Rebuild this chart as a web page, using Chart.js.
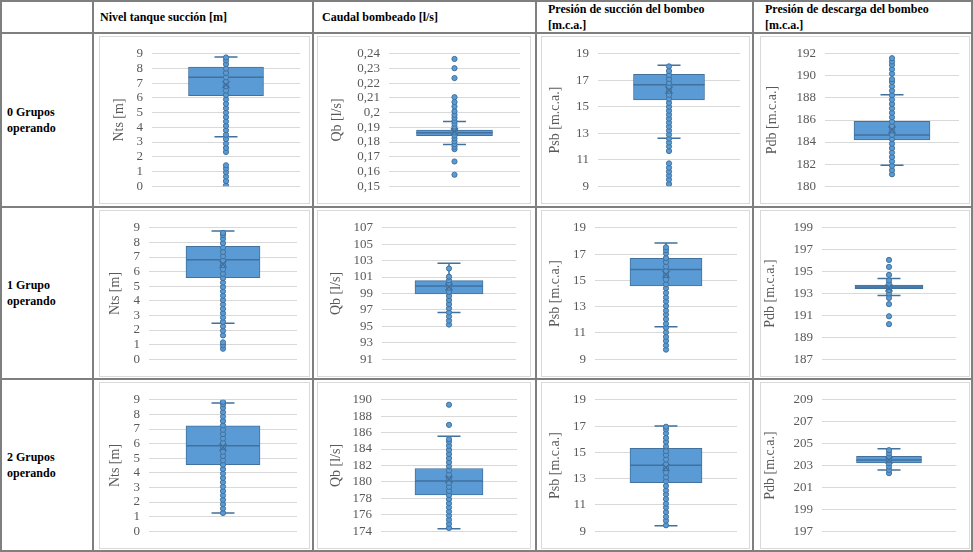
<!DOCTYPE html>
<html>
<head>
<meta charset="utf-8">
<script src="https://cdn.jsdelivr.net/npm/chart.js@4.4.0/dist/chart.umd.min.js"></script>
<style>
body{margin:0;background:#fff;}
#page{position:relative;width:973px;height:552px;overflow:hidden;font-family:"Liberation Serif","Times New Roman",serif;}
.hl{position:absolute;left:0;width:973px;height:2px;background:#7f7f7f;}
.vl{position:absolute;top:0;height:552px;width:2px;background:#7f7f7f;}
.txt{position:absolute;font-family:"Liberation Serif",serif;font-weight:bold;font-size:12px;line-height:16px;color:#000;display:flex;align-items:center;}
.box{position:absolute;border:1px solid #d9d9d9;box-sizing:border-box;background:#fff;}
.box canvas{display:block;}
</style>
</head>
<body>
<div id="page"></div>
<script>
var colHeaders = [['Nivel tanque succión [m]'], ['Caudal bombeado [l/s]'], ['Presión de succión del bombeo', '[m.c.a.]'], ['Presión de descarga del bombeo', '[m.c.a.]']];
var rowLabels = [['0 Grupos', 'operando'], ['1 Grupo', 'operando'], ['2 Grupos', 'operando']];
var yTitles = ['Nts [m]', 'Qb [l/s]', 'Psb [m.c.a.]', 'Pdb [m.c.a.]'];

// box = [whisker min, Q1, median, Q3, whisker max]
// 0 grupos
var nts0Ticks = [0, 9, 1];
var nts0Box = [3.36, 6.15, 7.4, 8.1, 8.78];
var nts0Mean = 6.9;
var nts0Points = [0.05, 0.35, 0.65, 0.95, 1.2, 1.42, 2.33, 2.6, 2.9, 3.2, 3.5, 3.8, 4.1, 4.4, 4.7, 5.0, 5.3, 5.6, 5.9, 6.2, 6.5, 6.8, 7.1, 7.4, 7.7, 8.0, 8.3, 8.55, 8.75];

var qb0Ticks = [0.15, 0.24, 0.01];
var qb0Box = [0.1783, 0.1844, 0.1864, 0.1881, 0.194];
var qb0Mean = 0.187;
var qb0Points = [0.1578, 0.1668, 0.1752, 0.1768, 0.1785, 0.1805, 0.1825, 0.1845, 0.1865, 0.1885, 0.1905, 0.1925, 0.1945, 0.1965, 0.1985, 0.201, 0.2042, 0.2072, 0.2105, 0.2235, 0.2302, 0.2365];

var psb0Ticks = [9, 19, 2];
var psb0Box = [12.63, 15.51, 16.67, 17.45, 18.13];
var psb0Mean = 16.26;
var psb0Points = [9.17, 9.5, 9.8, 10.1, 10.4, 10.72, 11.66, 12.0, 12.3, 12.6, 12.9, 13.2, 13.5, 13.8, 14.1, 14.4, 14.7, 15.0, 15.3, 15.6, 15.9, 16.2, 16.5, 16.8, 17.1, 17.4, 17.7, 18.05];

var pdb0Ticks = [180, 192, 2];
var pdb0Box = [181.89, 184.19, 184.65, 185.87, 188.28];
var pdb0Mean = 185.1;
var pdb0Points = [181.08, 181.45, 181.85, 182.25, 182.65, 183.05, 183.45, 183.85, 184.25, 184.65, 185.05, 185.45, 185.85, 186.25, 186.65, 187.05, 187.45, 187.85, 188.25, 188.65, 189.05, 189.45, 189.7, 190.2, 190.6, 191.0, 191.3, 191.6];

// 1 grupo
var nts1Ticks = [0, 9, 1];
var nts1Box = [2.46, 5.58, 6.82, 7.73, 8.78];
var nts1Mean = 6.5;
var nts1Points = [0.72, 0.95, 1.15, 1.63, 1.95, 2.25, 2.55, 2.85, 3.15, 3.45, 3.75, 4.05, 4.35, 4.65, 4.95, 5.25, 5.55, 5.85, 6.15, 6.45, 6.75, 7.05, 7.35, 7.65, 7.95, 8.25, 8.5, 8.65];

var qb1Ticks = [91, 107, 2];
var qb1Box = [96.7, 98.95, 99.9, 100.57, 102.67];
var qb1Mean = 99.8;
var qb1Points = [95.22, 95.7, 96.2, 96.7, 97.2, 97.7, 98.2, 98.7, 99.2, 99.7, 100.2, 100.6, 101.05, 102.05];

var psb1Ticks = [9, 19, 2];
var psb1Box = [11.47, 14.57, 15.83, 16.68, 17.84];
var psb1Mean = 15.45;
var psb1Points = [9.73, 10.05, 10.4, 10.7, 11.05, 11.4, 11.7, 12.05, 12.4, 12.7, 13.05, 13.4, 13.7, 14.05, 14.4, 14.7, 15.05, 15.4, 15.7, 16.05, 16.4, 16.7, 17.05, 17.3, 17.52];

var pdb1Ticks = [187, 199, 2];
var pdb1Box = [192.81, 193.45, 193.6, 193.77, 194.38];
var pdb1Mean = 193.5;
var pdb1Points = [190.2, 190.92, 192.03, 192.6, 193.0, 193.3, 193.6, 193.9, 194.2, 194.7, 195.43, 196.07];

// 2 grupos
var nts2Ticks = [0, 9, 1];
var nts2Box = [1.24, 4.55, 5.86, 7.21, 8.78];
var nts2Mean = 5.75;
var nts2Points = [1.25, 1.55, 1.85, 2.15, 2.45, 2.75, 3.05, 3.35, 3.65, 3.95, 4.25, 4.55, 4.85, 5.15, 5.45, 5.75, 6.05, 6.35, 6.65, 6.95, 7.25, 7.55, 7.85, 8.15, 8.45, 8.7, 8.85];

var qb2Ticks = [174, 190, 2];
var qb2Box = [174.31, 178.42, 180.12, 181.63, 185.55];
var qb2Mean = 180.3;
var qb2Points = [174.4, 174.9, 175.4, 175.9, 176.4, 176.9, 177.4, 177.9, 178.4, 178.9, 179.4, 179.9, 180.4, 180.9, 181.4, 181.9, 182.4, 182.9, 183.4, 183.9, 184.4, 184.9, 185.2, 186.95, 189.4];

var psb2Ticks = [9, 19, 2];
var psb2Box = [9.41, 12.7, 14.01, 15.3, 17.01];
var psb2Mean = 13.85;
var psb2Points = [9.45, 9.8, 10.1, 10.45, 10.8, 11.1, 11.45, 11.8, 12.1, 12.45, 12.8, 13.1, 13.45, 13.8, 14.1, 14.45, 14.8, 15.1, 15.45, 15.8, 16.1, 16.45, 16.75, 16.95];

var pdb2Ticks = [197, 209, 2];
var pdb2Box = [202.6, 203.23, 203.5, 203.84, 204.54];
var pdb2Mean = 203.5;
var pdb2Points = [202.3, 202.6, 202.9, 203.2, 203.5, 203.8, 204.1, 204.4];

var charts = [
  [[nts0Ticks, nts0Box, nts0Mean, nts0Points], [qb0Ticks, qb0Box, qb0Mean, qb0Points], [psb0Ticks, psb0Box, psb0Mean, psb0Points], [pdb0Ticks, pdb0Box, pdb0Mean, pdb0Points]],
  [[nts1Ticks, nts1Box, nts1Mean, nts1Points], [qb1Ticks, qb1Box, qb1Mean, qb1Points], [psb1Ticks, psb1Box, psb1Mean, psb1Points], [pdb1Ticks, pdb1Box, pdb1Mean, pdb1Points]],
  [[nts2Ticks, nts2Box, nts2Mean, nts2Points], [qb2Ticks, qb2Box, qb2Mean, qb2Points], [psb2Ticks, psb2Box, psb2Mean, psb2Points], [pdb2Ticks, pdb2Box, pdb2Mean, pdb2Points]]
];

// layout (pixels)
var hLines = [0, 32, 206, 378, 550];
var vLines = [0, 92, 312, 535, 752, 971];
var headerLeft = [100, 322, 548, 765];
var colBox = [[99, 310], [317, 531], [541, 750], [760, 970]];
var rowBox = [[36, 204], [210, 377], [382, 549]];
var plotX = [
  [[152, 300], [389, 520], [598, 740], [825, 959]],
  [[149, 297], [382, 516], [595, 737], [822, 956]],
  [[149, 297], [381, 517], [595, 737], [822, 956]]
];
var plotY = [[50, 188], [224, 362], [396, 534]];
var boxWidth = [[75, 76, 71, 76], [74, 68, 72, 68], [74, 68, 72, 65]];
var titleX = [[19, 19, 13, 11], [15, 18, 13, 9], [15, 18, 13, 9]];

var page = document.getElementById('page');

function addDiv(cls, css, html)
{
	var d = document.createElement('div');
	d.className = cls;
	d.style.cssText = css;
	if( html ) d.innerHTML = html;
	page.appendChild(d);
	return d;
}

hLines.forEach(function(y){ addDiv('hl', 'top:' + y + 'px'); });
vLines.forEach(function(x){ addDiv('vl', 'left:' + x + 'px'); });

for( var c = 0; c < 4; c++ )
{
	addDiv('txt', 'left:' + headerLeft[c] + 'px;top:1px;height:32px;width:' + (vLines[c + 2] - headerLeft[c] - 2) + 'px',
		'<div>' + colHeaders[c].join('<br>') + '</div>');
}
for( var r = 0; r < 3; r++ )
{
	addDiv('txt', 'left:7px;top:' + (hLines[r + 1] + 2) + 'px;height:' + (hLines[r + 2] - hLines[r + 1] - 2) + 'px;width:84px',
		'<div>' + rowLabels[r].join('<br>') + '</div>');
}

function fmt(v)
{
	return String(Math.round(v * 100) / 100).replace('.', ',');
}

function boxChart(canvas, title, ticks, box, mean, points, g)
{
	var pts = points.map(function(v){ return {x: 'c', y: v}; });
	new Chart(canvas, {
		type: 'bar',
		data: {
			labels: ['c'],
			datasets: [
				{type: 'line', data: [{x: 'c', y: mean}], showLine: false, pointStyle: 'crossRot', pointRadius: 5,
					pointBorderColor: '#41719C', pointBorderWidth: 1.5, order: 0},
				{type: 'line', data: pts, showLine: false, pointRadius: 2.6, pointBackgroundColor: '#5B9BD5',
					pointBorderColor: '#41719C', pointBorderWidth: 1, order: 1},
				{type: 'line', data: [{x: 'c', y: box[2]}], showLine: false, pointStyle: 'line', pointRadius: g.bw / 2,
					pointBorderColor: '#41719C', pointBorderWidth: 1.5, order: 2},
				{type: 'line', data: [{x: 'c', y: box[0]}, {x: 'c', y: box[4]}], showLine: true, pointStyle: 'line', pointRadius: 11.5,
					pointBorderColor: '#41719C', pointBorderWidth: 1.5, borderColor: '#41719C', borderWidth: 1.5, order: 4},
				{type: 'bar', data: [[box[1], box[3]]], backgroundColor: '#5B9BD5', borderColor: '#41719C', borderWidth: 1,
					borderSkipped: false, barThickness: g.bw, order: 3}
			]
		},
		options: {
			responsive: false,
			animation: false,
			layout: {autoPadding: false, padding: {left: 0, right: g.pr, top: g.pt, bottom: g.pb}},
			plugins: {legend: {display: false}, tooltip: {enabled: false}},
			scales: {
				x: {display: false},
				y: {
					min: ticks[0], max: ticks[1],
					ticks: {stepSize: ticks[2], autoSkip: false, color: '#595959', padding: 9,
						font: {family: 'Liberation Serif', size: 13}, callback: fmt},
					grid: {color: '#d9d9d9', drawTicks: false},
					border: {display: false},
					title: {display: true, text: title, color: '#595959', font: {family: 'Liberation Serif', size: 14},
						padding: {top: g.tx - 8.4, bottom: 0}},
					afterFit: function(s){ s.width = g.aw; }
				}
			}
		}
	});
}

for( var r = 0; r < 3; r++ )
{
	for( var c = 0; c < 4; c++ )
	{
		var bx = colBox[c], by = rowBox[r];
		var div = addDiv('box', 'left:' + bx[0] + 'px;top:' + by[0] + 'px;width:' + (bx[1] - bx[0]) + 'px;height:' + (by[1] - by[0]) + 'px');
		var cv = document.createElement('canvas');
		cv.width = bx[1] - bx[0] - 2;
		cv.height = by[1] - by[0] - 2;
		div.appendChild(cv);
		var g = {
			aw: plotX[r][c][0] - bx[0] - 1,
			pr: bx[1] - 1 - plotX[r][c][1],
			pt: plotY[r][0] - by[0] - 1,
			pb: by[1] - 1 - plotY[r][1],
			bw: boxWidth[r][c],
			tx: titleX[r][c]
		};
		var d = charts[r][c];
		boxChart(cv, yTitles[c], d[0], d[1], d[2], d[3], g);
	}
}
</script>
</body>
</html>
